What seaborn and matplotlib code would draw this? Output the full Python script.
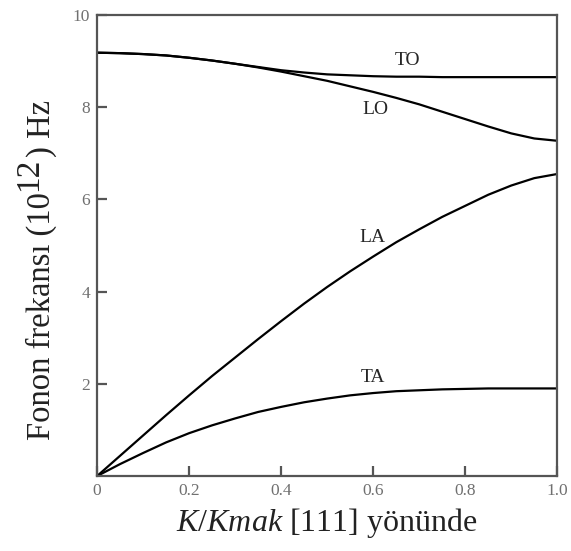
import numpy as np
import pandas as pd
import matplotlib
matplotlib.use("Agg")
import matplotlib.pyplot as plt
import seaborn as sns

# Reduced wave vector along [111]
k = [0.00, 0.05, 0.10, 0.15, 0.20, 0.25, 0.30, 0.35, 0.40, 0.45, 0.50,
     0.55, 0.60, 0.65, 0.70, 0.75, 0.80, 0.85, 0.90, 0.95, 1.00]

# Phonon branches, frequency in 10^12 Hz
to_branch = [9.18, 9.17, 9.15, 9.12, 9.07, 9.01, 8.94, 8.87, 8.80, 8.75, 8.71,
             8.69, 8.67, 8.66, 8.66, 8.65, 8.65, 8.65, 8.65, 8.65, 8.65]
lo_branch = [9.18, 9.17, 9.15, 9.12, 9.07, 9.01, 8.94, 8.86, 8.77, 8.67, 8.57,
             8.45, 8.33, 8.20, 8.06, 7.90, 7.74, 7.58, 7.43, 7.32, 7.27]
la_branch = [0.00, 0.44, 0.88, 1.32, 1.75, 2.17, 2.57, 2.97, 3.36, 3.74, 4.10,
             4.44, 4.76, 5.07, 5.35, 5.62, 5.86, 6.10, 6.30, 6.46, 6.55]
ta_branch = [0.00, 0.26, 0.50, 0.73, 0.93, 1.10, 1.25, 1.39, 1.50, 1.60, 1.68,
             1.75, 1.80, 1.84, 1.86, 1.88, 1.89, 1.90, 1.90, 1.90, 1.90]

branch_names = ["TO", "LO", "LA", "TA"]
label_pos = {"TO": (0.674, 9.02), "LO": (0.604, 7.94),
             "LA": (0.598, 5.18), "TA": (0.600, 2.13)}

x_ticks = [0, 0.2, 0.4, 0.6, 0.8, 1.0]
x_tick_labels = ["0", "0.2", "0.4", "0.6", "0.8", "1.0"]
y_ticks = [2, 4, 6, 8, 10]
y_tick_labels = ["2", "4", "6", "8", "10"]

ylabel_parts = ["Fonon frekansı (10", "12", ") Hz"]
xlabel_text = r"$K/Kmak$ [111] yönünde"

df = pd.DataFrame({
    "k": k * 4,
    "freq": to_branch + lo_branch + la_branch + ta_branch,
    "branch": sum([[n] * len(k) for n in branch_names], []),
})

sns.set_theme(style="white")
plt.rcParams["font.family"] = ["Liberation Serif", "DejaVu Serif"]
plt.rcParams["mathtext.fontset"] = "custom"
plt.rcParams["mathtext.rm"] = "Liberation Serif"
plt.rcParams["mathtext.it"] = "Liberation Serif:italic"

W, H = 571, 551
fig = plt.figure(figsize=(W / 100, H / 100), dpi=100)
ax = fig.add_axes([0.170, 0.136, 0.806, 0.837])

sns.lineplot(data=df, x="k", y="freq", units="branch", estimator=None,
             color="black", linewidth=1.6, ax=ax, legend=False)

for name in branch_names:
    x, y = label_pos[name]
    ax.text(x, y, name, fontsize=14, color="#262626", ha="center", va="center")

ax.set_xlim(0, 1.0)
ax.set_ylim(0, 10)
ax.set_xticks(x_ticks)
ax.set_xticklabels(x_tick_labels)
ax.set_yticks(y_ticks)
ax.set_yticklabels(y_tick_labels)

spine_col = "#555555"
for s in ax.spines.values():
    s.set_color(spine_col)
    s.set_linewidth(1.6)
    s.set_visible(True)

ax.tick_params(axis="both", direction="in", length=7, width=1.6,
               color=spine_col, labelcolor="#707070", labelsize=12.5, pad=5,
               bottom=True, left=True, top=False, right=False)

ax.set_xlabel(xlabel_text, fontsize=23, color="#222222", labelpad=5)
ax.set_ylabel("")

# Vertical axis title built piece by piece so the exponent stays full size
fig.canvas.draw()
renderer = fig.canvas.get_renderer()
px = lambda v: v / W
py = lambda v: v / H
base_x, start_y = 50, 111
raise_px = 13
offsets = [0, raise_px, 0]
sizes = [23.5, 24, 23.5]
cur_y = start_y
for part, off, fs in zip(ylabel_parts, offsets, sizes):
    t = fig.text(px(base_x - off), py(cur_y), part, rotation=90,
                 rotation_mode="anchor", ha="left", va="baseline",
                 fontsize=fs, color="#222222")
    bb = t.get_window_extent(renderer)
    cur_y = bb.y1 + 1

fig.savefig("out.png", dpi=100, facecolor="white")
